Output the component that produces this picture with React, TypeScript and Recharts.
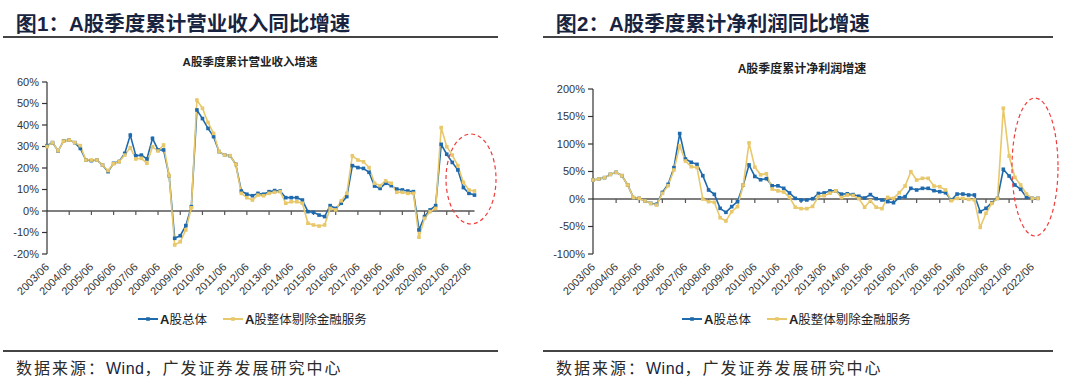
import { LineChart, Line, XAxis, YAxis, ReferenceLine } from "recharts";

const quarters = [
  "2003/06", "2003/09", "2003/12",
  "2004/03", "2004/06", "2004/09", "2004/12",
  "2005/03", "2005/06", "2005/09", "2005/12",
  "2006/03", "2006/06", "2006/09", "2006/12",
  "2007/03", "2007/06", "2007/09", "2007/12",
  "2008/03", "2008/06", "2008/09", "2008/12",
  "2009/03", "2009/06", "2009/09", "2009/12",
  "2010/03", "2010/06", "2010/09", "2010/12",
  "2011/03", "2011/06", "2011/09", "2011/12",
  "2012/03", "2012/06", "2012/09", "2012/12",
  "2013/03", "2013/06", "2013/09", "2013/12",
  "2014/03", "2014/06", "2014/09", "2014/12",
  "2015/03", "2015/06", "2015/09", "2015/12",
  "2016/03", "2016/06", "2016/09", "2016/12",
  "2017/03", "2017/06", "2017/09", "2017/12",
  "2018/03", "2018/06", "2018/09", "2018/12",
  "2019/03", "2019/06", "2019/09", "2019/12",
  "2020/03", "2020/06", "2020/09", "2020/12",
  "2021/03", "2021/06", "2021/09", "2021/12",
  "2022/03", "2022/06", "2022/09",
];

// 营业收入累计同比 (%)
const revenueAll = [
  30.4, 31.8, 27.9, 32.6, 33.0, 31.8, 29.1, 23.7, 23.4, 23.7,
  21.4, 18.3, 22.2, 23.0, 26.8, 35.3, 25.7, 26.0, 24.2, 33.8,
  28.4, 28.4, 16.4, -12.7, -11.5, -6.8, 2.0, 47.0, 43.0, 38.4,
  34.6, 27.6, 26.0, 25.7, 21.7, 9.3, 7.8, 7.1, 8.2, 7.8,
  9.0, 9.5, 9.3, 6.2, 6.2, 6.2, 5.1, -0.3, -0.6, -1.9,
  -2.6, 2.5, 1.2, 3.6, 6.7, 21.1, 20.2, 19.8, 18.0, 11.6,
  10.5, 12.9, 11.8, 10.2, 9.8, 9.3, 9.0, -8.8, -2.6, 0.5,
  2.5, 31.0, 26.4, 22.6, 19.1, 10.9, 8.2, 7.4,
];
const revenueExFin = [
  30.0, 31.8, 28.0, 32.5, 33.0, 31.8, 30.4, 23.7, 23.7, 23.7,
  21.4, 18.8, 22.0, 23.0, 26.0, 29.5, 24.2, 24.5, 22.2, 29.9,
  27.9, 30.7, 16.4, -15.8, -14.3, -8.8, 1.5, 51.6, 47.8, 41.2,
  36.1, 27.6, 26.0, 25.7, 21.7, 8.2, 6.2, 5.1, 7.4, 7.1,
  8.2, 8.7, 9.0, 3.6, 4.3, 4.3, 3.6, -5.7, -6.5, -7.0,
  -6.5, 1.2, 0.5, 4.7, 8.2, 25.7, 23.7, 22.9, 20.2, 12.9,
  11.8, 14.0, 12.9, 8.7, 8.7, 8.2, 8.2, -12.2, -3.4, -0.3,
  1.2, 38.8, 29.9, 26.0, 21.1, 13.3, 9.8, 9.3,
];

// 净利润累计同比 (%)
const profitAll = [
  34.5, 36.4, 38.8, 44.8, 48.5, 42.4, 25.5, 2.4, 1.2, -3.6,
  -7.9, -9.7, 12.0, 26.7, 57.0, 119.0, 72.7, 66.7, 63.0, 42.4,
  16.4, 8.5, -17.0, -24.2, -13.9, -4.8, 25.5, 62.0, 41.0, 35.0,
  37.0, 24.0, 24.0, 19.4, 11.0, 1.2, -1.8, -1.8, 0.5, 10.0,
  11.0, 14.8, 14.8, 8.8, 9.5, 8.0, 5.0, 1.8, 8.0, 0.6,
  -1.8, -4.8, -6.7, 2.4, 4.2, 19.4, 16.4, 19.4, 19.4, 15.2,
  13.3, 11.5, -1.8, 9.0, 9.0, 7.3, 7.3, -23.0, -17.0, -6.7,
  1.2, 54.0, 41.8, 25.5, 17.6, 3.0, 1.2, 1.2,
];
const profitExFin = [
  34.5, 36.4, 38.8, 44.8, 48.5, 42.4, 25.5, 2.4, 1.2, -3.6,
  -8.0, -11.0, 10.3, 24.2, 52.7, 96.4, 69.0, 58.8, 57.0, 0.0,
  -4.8, -6.0, -34.0, -40.0, -23.0, -13.9, 25.5, 102.0, 58.0, 44.0,
  46.0, 18.2, 14.8, 12.7, 3.0, -15.0, -17.5, -17.5, -13.5, 4.5,
  6.0, 10.5, 14.8, 2.7, 7.2, 6.4, 0.6, -15.0, -3.3, -15.0,
  -17.5, 3.0, 1.2, 11.5, 23.6, 49.7, 34.5, 37.6, 37.6, 23.6,
  22.4, 16.4, -3.0, 1.2, 1.2, -0.6, -1.8, -51.5, -26.0, -8.0,
  1.2, 165.0, 78.0, 39.4, 25.5, 9.0, 1.2, 1.2,
];

const revenueTicks = [-20, -10, 0, 10, 20, 30, 40, 50, 60];
const profitTicks = [-100, -50, 0, 50, 100, 150, 200];
const seriesNames = ["A股总体", "A股整体剔除金融服务"];

const BLUE = "#1f6aad";
const GOLD = "#e8c86a";
const NAVY = "#18243f";
const SANS = "'Liberation Sans', Arial, sans-serif";
const CJK = "'Noto Sans CJK SC', sans-serif";

const squareDot = (color: string) => (p: any) => (
  <rect key={p.index} x={p.cx - 1.8} y={p.cy - 1.8} width={3.6} height={3.6} fill={color} />
);

const XTick = ({ x, y, payload }: any) => (
  <text
    x={0}
    y={0}
    dy="0.35em"
    transform={`translate(${x},${y + 11}) rotate(-45)`}
    textAnchor="end"
    fontSize={11}
    fill="#333"
    fontFamily={SANS}
  >
    {payload.value}
  </text>
);

// zero line with year tick marks (every 4 quarters)
const zeroLine = (p: any) => {
  const step = ((p.x2 - p.x1) / (quarters.length - 1)) * 4;
  const marks = [];
  for (let k = 1; k * 4 < quarters.length; k++) {
    const x = p.x1 + step * k;
    marks.push(<line key={k} x1={x} x2={x} y1={p.y1} y2={p.y1 + 4} stroke="#555" strokeWidth={1.2} />);
  }
  return (
    <g>
      <line x1={p.x1} x2={p.x2} y1={p.y1} y2={p.y2} stroke="#555" strokeWidth={1.4} />
      {marks}
    </g>
  );
};

const LegendBox = ({ left }: { left: number }) => (
  <div
    style={{
      position: "absolute",
      left,
      top: 309,
      display: "flex",
      alignItems: "center",
      fontFamily: CJK,
      fontSize: 12.5,
      color: "#222",
      whiteSpace: "nowrap",
    }}
  >
    {seriesNames.map((n, i) => {
      const c = i === 0 ? BLUE : GOLD;
      return (
        <div key={n} style={{ display: "flex", alignItems: "center", marginRight: 16 }}>
          <svg width={20} height={8}>
            <line x1={0} y1={4} x2={20} y2={4} stroke={c} strokeWidth={2} />
            <rect x={8.2} y={2.2} width={3.6} height={3.6} fill={c} />
          </svg>
          <span style={{ marginLeft: 2 }}>
            <b style={{ fontFamily: SANS, fontSize: 13 }}>A</b>
            {n.slice(1)}
          </span>
        </div>
      );
    })}
  </div>
);

type PanelProps = {
  left: number;
  fig: string;
  chartTitle: string;
  chartTitleX: number;
  chartTitleY: number;
  chartTitleSize: number;
  a: number[];
  b: number[];
  ticks: number[];
  plotTop: number;
  plotLeft: number;
  plotRight: number;
  legendLeft: number;
  lineRight: number;
};

const Panel = (p: PanelProps) => {
  const data = quarters.map((q, i) => ({ q, a: p.a[i], b: p.b[i] }));
  return (
    <div style={{ position: "absolute", left: p.left, top: 0, width: 540, height: 385 }}>
      <div
        style={{
          position: "absolute",
          left: 16,
          top: 8,
          fontFamily: CJK,
          fontWeight: 700,
          fontSize: 20.5,
          color: NAVY,
          whiteSpace: "nowrap",
          lineHeight: "28px",
        }}
      >
        <span style={{ fontFamily: SANS }}>{p.fig.slice(0, 2)}</span>
        {p.fig.slice(2, 3)}
        <span style={{ fontFamily: SANS }}>A</span>
        {p.fig.slice(4)}
      </div>
      <div style={{ position: "absolute", left: 3, top: 36, width: p.lineRight - 3, height: 2, background: "#444" }} />
      <div
        style={{
          position: "absolute",
          left: p.chartTitleX,
          top: p.chartTitleY,
          transform: "translate(-50%, -50%)",
          fontFamily: CJK,
          fontWeight: 700,
          fontSize: p.chartTitleSize,
          color: "#222",
          whiteSpace: "nowrap",
        }}
      >
        <span style={{ fontFamily: SANS }}>A</span>
        {p.chartTitle.slice(1)}
      </div>
      <LineChart
        width={540}
        height={385}
        data={data}
        margin={{ top: p.plotTop, right: 540 - p.plotRight, bottom: 0, left: 0 }}
      >
        <XAxis
          dataKey="q"
          interval={3}
          axisLine={false}
          tickLine={false}
          tickSize={0}
          tickMargin={0}
          height={131}
          tick={<XTick />}
        />
        <YAxis
          width={p.plotLeft}
          domain={[p.ticks[0], p.ticks[p.ticks.length - 1]]}
          ticks={p.ticks}
          interval={0}
          tickFormatter={(v) => `${v}%`}
          tick={{ fontSize: 11, fill: "#333", fontFamily: SANS }}
          axisLine={{ stroke: "#333", strokeWidth: 1.2 }}
          tickLine={{ stroke: "#333", strokeWidth: 1.2 }}
          tickSize={5}
          tickMargin={3}
        />
        <ReferenceLine y={0} shape={zeroLine} />
        <Line
          dataKey="a"
          name={seriesNames[0]}
          stroke={BLUE}
          strokeWidth={1.6}
          dot={squareDot(BLUE)}
          activeDot={false}
          isAnimationActive={false}
        />
        <Line
          dataKey="b"
          name={seriesNames[1]}
          stroke={GOLD}
          strokeWidth={1.6}
          dot={squareDot(GOLD)}
          activeDot={false}
          isAnimationActive={false}
        />
      </LineChart>
      <LegendBox left={p.legendLeft} />
      <div style={{ position: "absolute", left: 3, top: 350, width: p.lineRight - 3, height: 2, background: "#444" }} />
      <div
        style={{
          position: "absolute",
          left: 16,
          top: 356,
          fontFamily: CJK,
          fontSize: 16,
          letterSpacing: 2,
          color: "#2b2b2b",
          whiteSpace: "nowrap",
          lineHeight: "22px",
        }}
      >
        数据来源：<span style={{ fontFamily: SANS, color: NAVY, letterSpacing: 0.5 }}>Wind</span>，广发证券发展研究中心
      </div>
    </div>
  );
};

const App = () => (
  <div style={{ position: "absolute", left: 0, top: 0, width: 1080, height: 385, background: "#fff", overflow: "hidden" }}>
    <Panel
      left={0}
      fig="图1：A股季度累计营业收入同比增速"
      chartTitle="A股季度累计营业收入增速"
      chartTitleX={250}
      chartTitleY={61}
      chartTitleSize={11.5}
      a={revenueAll}
      b={revenueExFin}
      ticks={revenueTicks}
      plotTop={82}
      plotLeft={47}
      plotRight={474.5}
      legendLeft={138}
      lineRight={498}
    />
    <Panel
      left={540}
      fig="图2：A股季度累计净利润同比增速"
      chartTitle="A股季度累计净利润增速"
      chartTitleX={262}
      chartTitleY={67}
      chartTitleSize={12}
      a={profitAll}
      b={profitExFin}
      ticks={profitTicks}
      plotTop={89}
      plotLeft={53}
      plotRight={498}
      legendLeft={142}
      lineRight={513}
    />
    <svg width={1080} height={385} style={{ position: "absolute", left: 0, top: 0, pointerEvents: "none" }}>
      <ellipse cx={471} cy={179} rx={25} ry={45} fill="none" stroke="#f03c3c" strokeWidth={1.2} strokeDasharray="4 3" />
      <ellipse cx={1035} cy={167} rx={23} ry={69} fill="none" stroke="#f03c3c" strokeWidth={1.2} strokeDasharray="4 3" />
    </svg>
  </div>
);

export default App;
